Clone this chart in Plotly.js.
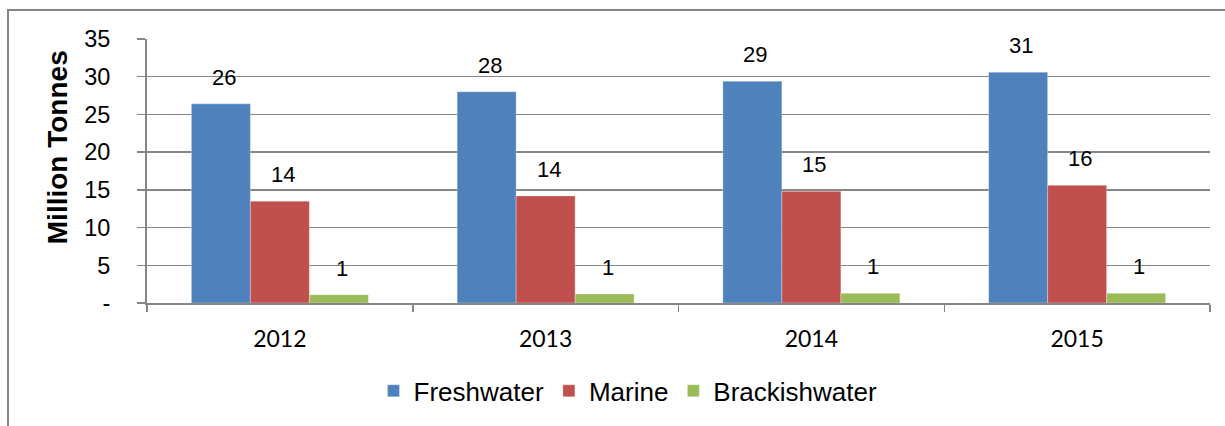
<!DOCTYPE html>
<html>
<head>
<meta charset="utf-8">
<script src="https://cdn.plot.ly/plotly-3.0.1.min.js"></script>
<style>
  html, body { margin: 0; padding: 0; background: #fff; }
  #chart { width: 1225px; height: 426px; }
</style>
</head>
<body>
<div id="chart"></div>
<script>
// Aquaculture production by water type, million tonnes
const years = ['2012', '2013', '2014', '2015'];
const freshwater = [26.4, 28.0, 29.4, 30.6];
const marine = [13.5, 14.2, 14.8, 15.6];
const brackishwater = [1.1, 1.2, 1.3, 1.3];

const seriesNames = ['Freshwater', 'Marine', 'Brackishwater'];
const seriesValues = [freshwater, marine, brackishwater];
const seriesColors = ['#4F81BD', '#C0504D', '#9BBB59'];

const yTickVals = [0, 5, 10, 15, 20, 25, 30, 35];
const yTickText = ['-', '5', '10', '15', '20', '25', '30', '35'];
const yTitle = 'Million Tonnes';

const ARIAL = '"Liberation Sans", Arial, sans-serif';

const traces = seriesNames.map((name, i) => ({
  type: 'bar',
  name: name,
  x: years,
  y: seriesValues[i],
  marker: { color: seriesColors[i], line: { color: 'rgba(255,255,255,0.6)', width: 0.5 } },
  hoverinfo: 'x+y+name'
}));

// value labels sit above each bar, rounded to whole tonnes;
// on a category axis annotations take the category's serial index
const barPx = 59;
const annotations = [];
seriesValues.forEach((vals, i) => {
  vals.forEach((v, j) => {
    annotations.push({
      x: j, y: v, xref: 'x', yref: 'y',
      text: String(Math.round(v)),
      showarrow: false,
      xshift: (i - 1) * barPx + 3,
      yanchor: 'bottom',
      yshift: 12,
      font: { family: ARIAL, size: 22, color: '#000' }
    });
  });
});

// vertical axis caption, set a little above the middle of the axis
annotations.push({
  xref: 'paper', yref: 'paper',
  x: -0.0847, y: 0.59,
  xanchor: 'center', yanchor: 'middle',
  textangle: -90,
  text: '<b>' + yTitle + '</b>',
  showarrow: false,
  font: { family: ARIAL, size: 28, color: '#000' }
});

const layout = {
  width: 1225,
  height: 426,
  margin: { l: 147, r: 15, t: 39, b: 123 },
  paper_bgcolor: '#fff',
  plot_bgcolor: '#fff',
  barmode: 'group',
  bargap: 0.334,
  bargroupgap: 0,
  showlegend: true,
  legend: {
    orientation: 'h',
    x: 0.4525, xanchor: 'center',
    y: -0.333, yanchor: 'middle',
    font: { family: ARIAL, size: 26, color: '#000' },
    itemclick: false
  },
  xaxis: {
    type: 'category',
    range: [-0.5, 3.5],
    showline: true, linecolor: '#868686', linewidth: 2,
    ticks: 'outside', tickson: 'boundaries', ticklen: 7, tickwidth: 1.5, tickcolor: '#868686',
    showgrid: false,
    ticklabelstandoff: 14,
    tickangle: 0,
    tickfont: { family: 'Lato, "Liberation Sans", sans-serif', size: 23, color: '#000' },
    automargin: false
  },
  yaxis: {
    range: [0, 35],
    tickvals: yTickVals,
    ticktext: yTickText,
    showline: true, linecolor: '#868686', linewidth: 2,
    ticks: 'outside', ticklen: 8, tickwidth: 1.5, tickcolor: '#868686',
    showgrid: true, gridcolor: '#868686', gridwidth: 1.5,
    zeroline: false,
    ticklabelstandoff: 22,
    tickfont: { family: ARIAL, size: 23.5, color: '#000' },
    automargin: false
  },
  annotations: annotations,
  shapes: [{
    type: 'rect', xref: 'paper', yref: 'paper',
    x0: (8 - 147) / 1063, x1: 1.2,
    y0: -0.6, y1: (303 - 10) / 264,
    line: { color: '#868686', width: 2 },
    fillcolor: 'rgba(0,0,0,0)',
    layer: 'below'
  }]
};

Plotly.newPlot('chart', traces, layout, { displayModeBar: false, staticPlot: true });
</script>
</body>
</html>
